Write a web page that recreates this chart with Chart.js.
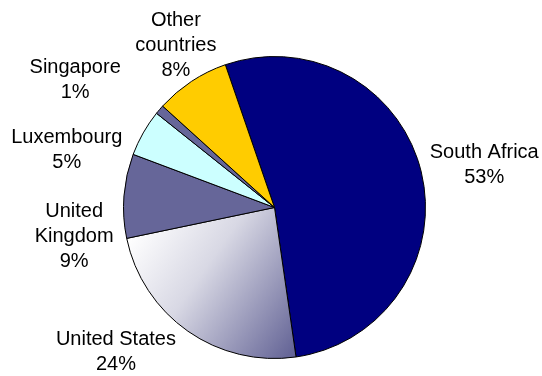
<!DOCTYPE html>
<html>
<head>
<meta charset="utf-8">
<script src="https://cdn.jsdelivr.net/npm/chart.js@4"></script>
<style>
  html, body { margin: 0; padding: 0; background: #fff; }
</style>
</head>
<body>
<canvas id="c" width="542" height="376"></canvas>
<script>
// Shares by country, in percent, listed clockwise from the top
const categories = ['South Africa', 'United States', 'United Kingdom', 'Luxembourg', 'Singapore', 'Other countries'];
const shares = [53, 24, 9, 5, 1, 8];
const labelLines = [['South Africa'], ['United States'], ['United', 'Kingdom'], ['Luxembourg'], ['Singapore'], ['Other', 'countries']];

// Slice fills; null means the shaded gradient fill
const sliceColors = ['#000080', null, '#666699', '#CCFFFF', '#666699', '#FFCC00'];

// Label anchors relative to the pie centre, in radii: [text centre x, first baseline y]
const labelAnchors = [
  [1.389, -0.327],
  [-1.050, 0.908],
  [-1.327, 0.065],
  [-1.376, -0.424],
  [-1.320, -0.890],
  [-0.653, -1.205]
];
const lineStep = 25;

function sliceFill(context) {
  const i = context.dataIndex;
  if (sliceColors[i]) return sliceColors[i];
  const chart = context.chart;
  const a = chart.chartArea;
  if (!a) return '#b4b4cc';
  const cx = (a.left + a.right) / 2;
  const cy = (a.top + a.bottom) / 2;
  const r = Math.min(a.width, a.height) / 2;
  const g = chart.ctx.createLinearGradient(cx - 0.97 * r, cy + 0.21 * r, cx + 0.12 * r, cy + 0.97 * r);
  g.addColorStop(0, '#ffffff');
  g.addColorStop(0.4, '#d8d8e4');
  g.addColorStop(1, '#646496');
  return g;
}

// Draws the category name and percentage beside each slice
const sliceLabels = {
  id: 'sliceLabels',
  afterDatasetsDraw(chart) {
    const meta = chart.getDatasetMeta(0);
    const ctx = chart.ctx;
    ctx.save();
    ctx.font = '20px "Liberation Sans", Arial, sans-serif';
    ctx.fillStyle = '#000';
    ctx.textAlign = 'center';
    ctx.textBaseline = 'alphabetic';
    meta.data.forEach((arc, i) => {
      const p = arc.getProps(['x', 'y', 'outerRadius'], true);
      const lines = labelLines[i].concat([shares[i] + '%']);
      const lx = p.x + labelAnchors[i][0] * p.outerRadius;
      const ly = p.y + labelAnchors[i][1] * p.outerRadius;
      lines.forEach((t, k) => ctx.fillText(t, lx, ly + k * lineStep));
    });
    ctx.restore();
  }
};

new Chart(document.getElementById('c'), {
  type: 'pie',
  data: {
    labels: categories,
    datasets: [{
      data: shares,
      backgroundColor: sliceFill,
      borderColor: '#000000',
      borderWidth: 1,
      hoverOffset: 0
    }]
  },
  options: {
    responsive: false,
    animation: false,
    events: [],
    rotation: -19,
    layout: { padding: { top: 56, bottom: 17, left: 120, right: 113 } },
    plugins: {
      legend: { display: false },
      tooltip: { enabled: false }
    }
  },
  plugins: [sliceLabels]
});
</script>
</body>
</html>
